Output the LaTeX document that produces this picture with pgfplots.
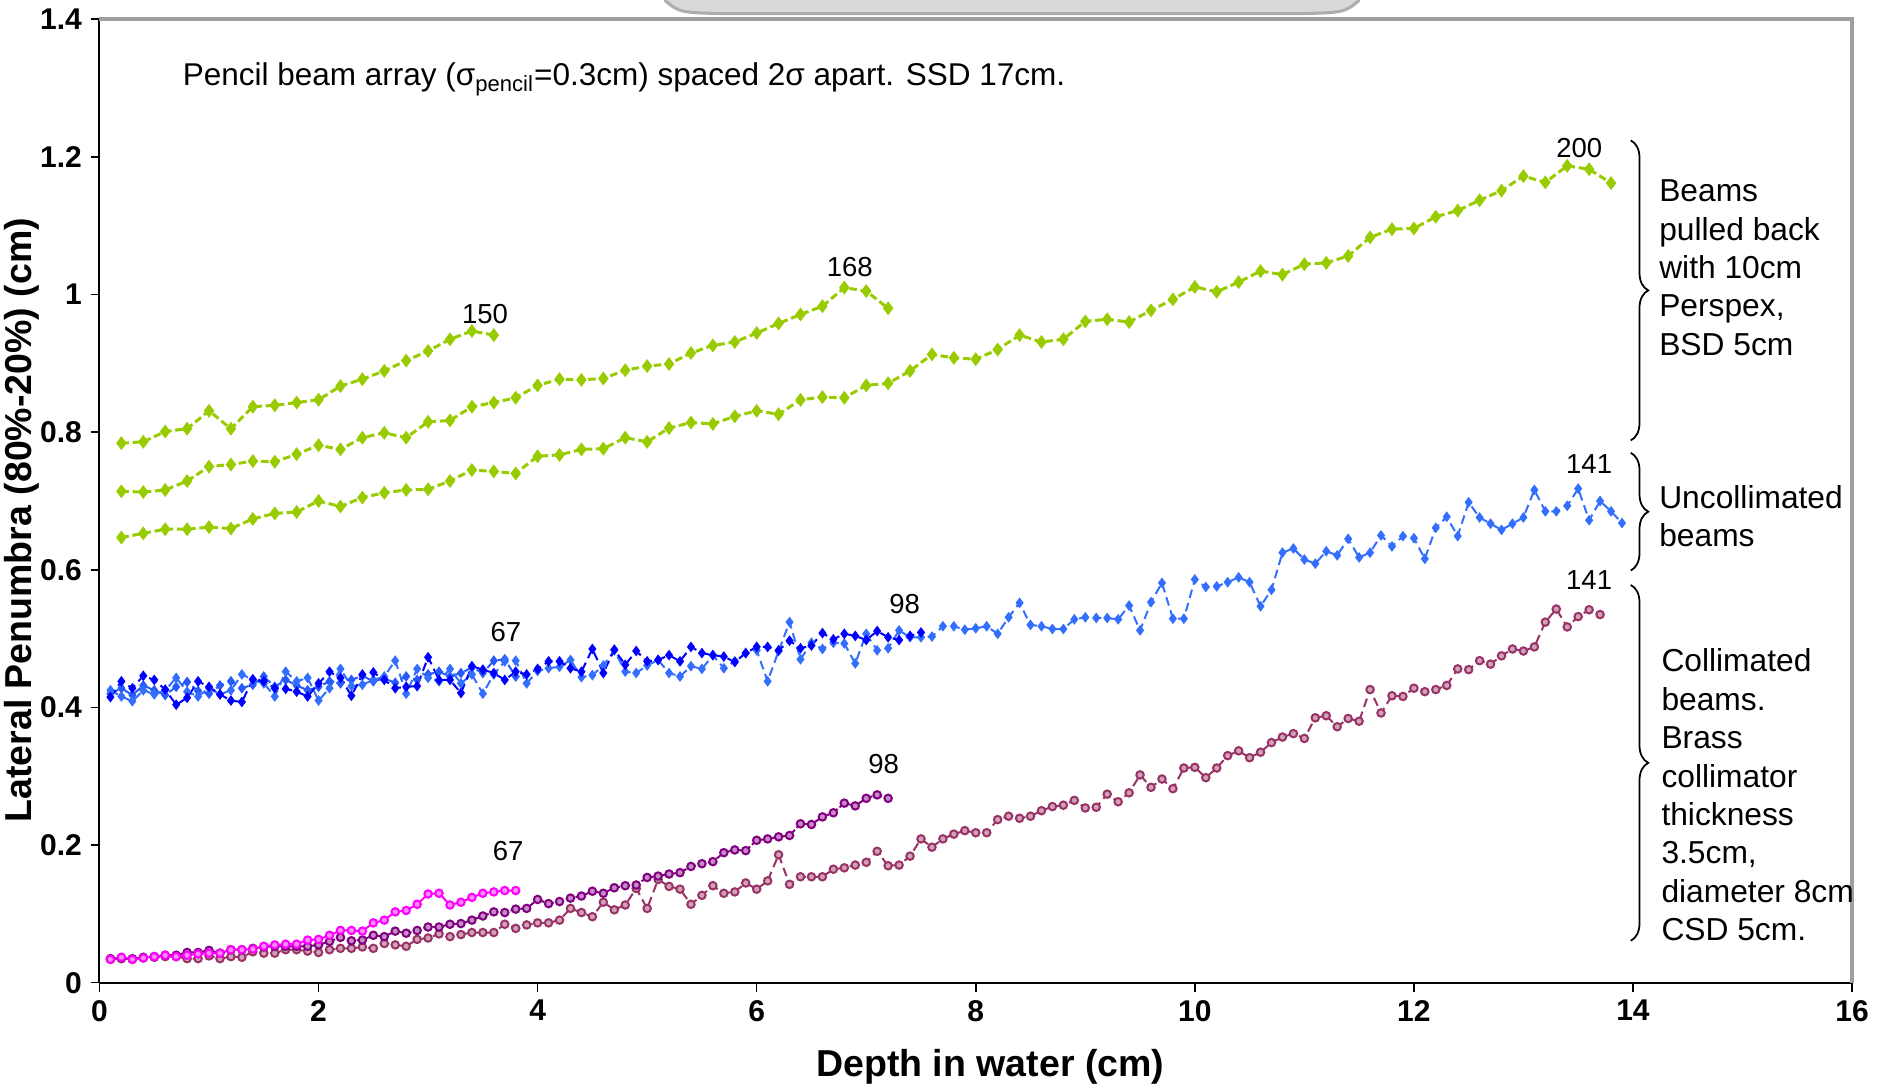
\documentclass[border=0pt]{standalone}
\usepackage{pgfplots}
\pgfplotsset{compat=1.18}
\usepackage{fontspec}
\setmainfont{Liberation Sans}
\usetikzlibrary{decorations.pathreplacing}
\definecolor{cgreen}{RGB}{153,204,0}
\definecolor{cdblue}{RGB}{0,0,255}
\definecolor{clblue}{RGB}{51,110,255}
\definecolor{cmblue}{RGB}{40,90,250}
\definecolor{cmagenta}{RGB}{255,0,255}
\definecolor{cpurple}{RGB}{128,0,128}
\definecolor{cmaroon}{RGB}{153,51,102}
\begin{document}
\begin{tikzpicture}
\begin{axis}[
 at={(0,0)}, anchor=south west,
 width=701pt, height=385.4pt, scale only axis,
 xmin=0, xmax=16, ymin=0, ymax=1.4,
 axis x line*=bottom, axis y line*=left,
 axis line style={black, line width=0.8pt},
 xtick={0,2,...,16}, ytick={0,0.2,0.4,0.6,0.8,1,1.2,1.4},
 tick align=outside, major tick length=3.5pt,
 tick style={black, line width=0.6pt},
 ticklabel style={font=\fontsize{12}{12}\selectfont\bfseries},
 /pgf/number format/assume math mode=true,
 yticklabel style={/pgf/number format/fixed},
 clip=false,
 greenst/.style={cgreen, line width=1.2pt, dash pattern=on 3pt off 1.5pt, mark=diamond*, mark size=1.8pt, mark options={solid, fill=cgreen}},
 bluest/.style={#1, line width=0.8pt, dash pattern=on 3.5pt off 2pt, mark=diamond*, mark size=1.5pt, mark options={solid, fill=#1}},
 circst/.style={#1, line width=0.8pt, mark=*, mark size=1.5pt, mark options={solid, fill=#1!45!white}},
]
% plot-area border (grey, top and right)
\draw[gray!75, line width=1.4pt] (rel axis cs:0,1) -- (rel axis cs:1,1) -- (rel axis cs:1,0);

% ---------------- Beams pulled back (green) ----------------
\addplot[greenst] coordinates {(0.2,0.784)(0.4,0.786)(0.6,0.801)(0.8,0.805)(1.0,0.831)(1.2,0.805)(1.4,0.837)(1.6,0.839)(1.8,0.843)(2.0,0.847)(2.2,0.867)(2.4,0.877)(2.6,0.889)(2.8,0.904)(3.0,0.918)(3.2,0.935)(3.4,0.947)(3.6,0.941)};
\addplot[greenst] coordinates {(0.2,0.714)(0.4,0.713)(0.6,0.716)(0.8,0.729)(1.0,0.750)(1.2,0.753)(1.4,0.758)(1.6,0.757)(1.8,0.768)(2.0,0.781)(2.2,0.775)(2.4,0.792)(2.6,0.799)(2.8,0.792)(3.0,0.815)(3.2,0.817)(3.4,0.837)(3.6,0.843)(3.8,0.850)(4.0,0.868)(4.2,0.877)(4.4,0.876)(4.6,0.878)(4.8,0.890)(5.0,0.896)(5.2,0.899)(5.4,0.915)(5.6,0.926)(5.8,0.931)(6.0,0.944)(6.2,0.958)(6.4,0.971)(6.6,0.983)(6.8,1.010)(7.0,1.005)(7.2,0.980)};
\addplot[greenst] coordinates {(0.2,0.647)(0.4,0.653)(0.6,0.659)(0.8,0.659)(1.0,0.662)(1.2,0.660)(1.4,0.674)(1.6,0.682)(1.8,0.684)(2.0,0.700)(2.2,0.692)(2.4,0.705)(2.6,0.712)(2.8,0.716)(3.0,0.717)(3.2,0.729)(3.4,0.745)(3.6,0.743)(3.8,0.740)(4.0,0.765)(4.2,0.767)(4.4,0.775)(4.6,0.776)(4.8,0.792)(5.0,0.786)(5.2,0.806)(5.4,0.814)(5.6,0.812)(5.8,0.823)(6.0,0.831)(6.2,0.826)(6.4,0.847)(6.6,0.851)(6.8,0.850)(7.0,0.868)(7.2,0.871)(7.4,0.889)(7.6,0.913)(7.8,0.908)(8.0,0.906)(8.2,0.920)(8.4,0.941)(8.6,0.931)(8.8,0.935)(9.0,0.961)(9.2,0.964)(9.4,0.960)(9.6,0.977)(9.8,0.993)(10.0,1.011)(10.2,1.004)(10.4,1.018)(10.6,1.034)(10.8,1.029)(11.0,1.044)(11.2,1.046)(11.4,1.056)(11.6,1.083)(11.8,1.095)(12.0,1.096)(12.2,1.113)(12.4,1.122)(12.6,1.137)(12.8,1.151)(13.0,1.172)(13.2,1.163)(13.4,1.187)(13.6,1.182)(13.8,1.162)};

% ---------------- Uncollimated (blue) ----------------
\addplot[bluest=cmblue] coordinates {(0.1,0.420)(0.2,0.428)(0.3,0.418)(0.4,0.432)(0.5,0.425)(0.6,0.418)(0.7,0.430)(0.8,0.437)(0.9,0.424)(1.0,0.420)(1.1,0.432)(1.2,0.438)(1.3,0.428)(1.4,0.433)(1.5,0.445)(1.6,0.430)(1.7,0.440)(1.8,0.432)(1.9,0.425)(2.0,0.430)(2.1,0.438)(2.2,0.435)(2.3,0.440)(2.4,0.446)(2.5,0.438)(2.6,0.442)(2.7,0.436)(2.8,0.445)(2.9,0.440)(3.0,0.448)(3.1,0.452)(3.2,0.445)(3.3,0.450)(3.4,0.458)(3.5,0.450)(3.6,0.468)(3.7,0.470)(3.8,0.445)};
\addplot[bluest=clblue] coordinates {(0.1,0.425)(0.2,0.416)(0.3,0.409)(0.4,0.425)(0.5,0.419)(0.6,0.425)(0.7,0.443)(0.8,0.423)(0.9,0.416)(1.0,0.428)(1.1,0.419)(1.2,0.425)(1.3,0.448)(1.4,0.440)(1.5,0.435)(1.6,0.416)(1.7,0.452)(1.8,0.438)(1.9,0.443)(2.0,0.410)(2.1,0.428)(2.2,0.456)(2.3,0.431)(2.4,0.433)(2.5,0.440)(2.6,0.445)(2.7,0.468)(2.8,0.420)(2.9,0.456)(3.0,0.443)(3.1,0.438)(3.2,0.456)(3.3,0.435)(3.4,0.448)(3.5,0.420)(3.6,0.448)(3.7,0.467)(3.8,0.468)(3.9,0.435)(4.0,0.453)(4.1,0.457)(4.2,0.459)(4.3,0.469)(4.4,0.444)(4.5,0.447)(4.6,0.461)(4.7,0.483)(4.8,0.452)(4.9,0.450)(5.0,0.461)(5.1,0.469)(5.2,0.450)(5.3,0.445)(5.4,0.460)(5.5,0.456)(5.6,0.476)(5.7,0.457)(5.8,0.467)(5.9,0.479)(6.0,0.483)(6.1,0.438)(6.2,0.482)(6.3,0.524)(6.4,0.470)(6.5,0.494)(6.6,0.485)(6.7,0.494)(6.8,0.493)(6.9,0.464)(7.0,0.507)(7.1,0.483)(7.2,0.486)(7.3,0.512)(7.4,0.502)(7.5,0.502)(7.6,0.503)(7.7,0.518)(7.8,0.518)(7.9,0.513)(8.0,0.515)(8.1,0.518)(8.2,0.507)(8.3,0.531)(8.4,0.552)(8.5,0.520)(8.6,0.518)(8.7,0.514)(8.8,0.514)(8.9,0.528)(9.0,0.531)(9.1,0.530)(9.2,0.530)(9.3,0.528)(9.4,0.548)(9.5,0.512)(9.6,0.553)(9.7,0.581)(9.8,0.529)(9.9,0.529)(10.0,0.586)(10.1,0.575)(10.2,0.576)(10.3,0.582)(10.4,0.589)(10.5,0.582)(10.6,0.547)(10.7,0.571)(10.8,0.625)(10.9,0.631)(11.0,0.615)(11.1,0.609)(11.2,0.627)(11.3,0.621)(11.4,0.645)(11.5,0.618)(11.6,0.625)(11.7,0.650)(11.8,0.634)(11.9,0.649)(12.0,0.646)(12.1,0.616)(12.2,0.661)(12.3,0.677)(12.4,0.649)(12.5,0.698)(12.6,0.676)(12.7,0.667)(12.8,0.658)(12.9,0.667)(13.0,0.676)(13.1,0.716)(13.2,0.685)(13.3,0.685)(13.4,0.693)(13.5,0.718)(13.6,0.672)(13.7,0.700)(13.8,0.685)(13.9,0.668)};
\addplot[bluest=cdblue] coordinates {(0.1,0.415)(0.2,0.438)(0.3,0.428)(0.4,0.446)(0.5,0.440)(0.6,0.426)(0.7,0.404)(0.8,0.414)(0.9,0.438)(1.0,0.430)(1.1,0.419)(1.2,0.410)(1.3,0.408)(1.4,0.441)(1.5,0.438)(1.6,0.428)(1.7,0.427)(1.8,0.423)(1.9,0.416)(2.0,0.435)(2.1,0.452)(2.2,0.443)(2.3,0.417)(2.4,0.448)(2.5,0.451)(2.6,0.440)(2.7,0.428)(2.8,0.430)(2.9,0.431)(3.0,0.473)(3.1,0.440)(3.2,0.440)(3.3,0.421)(3.4,0.460)(3.5,0.455)(3.6,0.450)(3.7,0.440)(3.8,0.452)(3.9,0.448)(4.0,0.456)(4.1,0.467)(4.2,0.467)(4.3,0.457)(4.4,0.452)(4.5,0.485)(4.6,0.450)(4.7,0.484)(4.8,0.462)(4.9,0.482)(5.0,0.467)(5.1,0.469)(5.2,0.476)(5.3,0.467)(5.4,0.488)(5.5,0.479)(5.6,0.476)(5.7,0.474)(5.8,0.466)(5.9,0.479)(6.0,0.488)(6.1,0.488)(6.2,0.483)(6.3,0.497)(6.4,0.486)(6.5,0.490)(6.6,0.508)(6.7,0.499)(6.8,0.507)(6.9,0.504)(7.0,0.498)(7.1,0.511)(7.2,0.502)(7.3,0.498)(7.4,0.504)(7.5,0.509)};

% ---------------- Collimated (magenta / purple / maroon) ----------------
\addplot[circst=cmaroon, dash pattern=on 3.5pt off 2pt] coordinates {(0.1,0.034)(0.2,0.035)(0.3,0.034)(0.4,0.036)(0.5,0.037)(0.6,0.038)(0.7,0.038)(0.8,0.035)(0.9,0.035)(1.0,0.039)(1.1,0.035)(1.2,0.038)(1.3,0.037)(1.4,0.045)(1.5,0.043)(1.6,0.043)(1.7,0.048)(1.8,0.048)(1.9,0.046)(2.0,0.044)(2.1,0.048)(2.2,0.050)(2.3,0.050)(2.4,0.052)(2.5,0.050)(2.6,0.057)(2.7,0.055)(2.8,0.053)(2.9,0.063)(3.0,0.065)(3.1,0.071)(3.2,0.067)(3.3,0.070)(3.4,0.073)(3.5,0.073)(3.6,0.073)(3.7,0.085)(3.8,0.079)(3.9,0.084)(4.0,0.087)(4.1,0.087)(4.2,0.091)(4.3,0.108)(4.4,0.102)(4.5,0.096)(4.6,0.117)(4.7,0.106)(4.8,0.113)(4.9,0.137)(5.0,0.108)(5.1,0.150)(5.2,0.140)(5.3,0.136)(5.4,0.114)(5.5,0.127)(5.6,0.141)(5.7,0.130)(5.8,0.132)(5.9,0.145)(6.0,0.136)(6.1,0.148)(6.2,0.186)(6.3,0.143)(6.4,0.154)(6.5,0.154)(6.6,0.154)(6.7,0.165)(6.8,0.167)(6.9,0.171)(7.0,0.175)(7.1,0.191)(7.2,0.170)(7.3,0.171)(7.4,0.184)(7.5,0.209)(7.6,0.197)(7.7,0.209)(7.8,0.216)(7.9,0.221)(8.0,0.218)(8.1,0.218)(8.2,0.237)(8.3,0.242)(8.4,0.239)(8.5,0.242)(8.6,0.250)(8.7,0.256)(8.8,0.258)(8.9,0.265)(9.0,0.254)(9.1,0.255)(9.2,0.274)(9.3,0.263)(9.4,0.276)(9.5,0.302)(9.6,0.284)(9.7,0.296)(9.8,0.282)(9.9,0.312)(10.0,0.313)(10.1,0.298)(10.2,0.312)(10.3,0.330)(10.4,0.337)(10.5,0.327)(10.6,0.335)(10.7,0.349)(10.8,0.357)(10.9,0.362)(11.0,0.355)(11.1,0.385)(11.2,0.388)(11.3,0.372)(11.4,0.384)(11.5,0.380)(11.6,0.426)(11.7,0.392)(11.8,0.417)(11.9,0.416)(12.0,0.428)(12.1,0.423)(12.2,0.426)(12.3,0.432)(12.4,0.456)(12.5,0.455)(12.6,0.468)(12.7,0.463)(12.8,0.475)(12.9,0.485)(13.0,0.482)(13.1,0.488)(13.2,0.524)(13.3,0.543)(13.4,0.517)(13.5,0.532)(13.6,0.542)(13.7,0.535)};
\addplot[circst=cpurple, dash pattern=on 3pt off 1pt] coordinates {(0.1,0.035)(0.2,0.036)(0.3,0.035)(0.4,0.037)(0.5,0.038)(0.6,0.040)(0.7,0.040)(0.8,0.044)(0.9,0.044)(1.0,0.047)(1.1,0.043)(1.2,0.048)(1.3,0.048)(1.4,0.050)(1.5,0.052)(1.6,0.053)(1.7,0.053)(1.8,0.053)(1.9,0.053)(2.0,0.055)(2.1,0.060)(2.2,0.066)(2.3,0.061)(2.4,0.062)(2.5,0.069)(2.6,0.067)(2.7,0.075)(2.8,0.072)(2.9,0.076)(3.0,0.081)(3.1,0.081)(3.2,0.085)(3.3,0.086)(3.4,0.091)(3.5,0.097)(3.6,0.103)(3.7,0.102)(3.8,0.107)(3.9,0.108)(4.0,0.121)(4.1,0.115)(4.2,0.118)(4.3,0.123)(4.4,0.126)(4.5,0.133)(4.6,0.130)(4.7,0.138)(4.8,0.141)(4.9,0.142)(5.0,0.153)(5.1,0.155)(5.2,0.158)(5.3,0.160)(5.4,0.169)(5.5,0.173)(5.6,0.176)(5.7,0.189)(5.8,0.193)(5.9,0.192)(6.0,0.207)(6.1,0.209)(6.2,0.212)(6.3,0.214)(6.4,0.231)(6.5,0.230)(6.6,0.241)(6.7,0.247)(6.8,0.261)(6.9,0.257)(7.0,0.268)(7.1,0.273)(7.2,0.268)};
\addplot[circst=cmagenta] coordinates {(0.1,0.034)(0.2,0.037)(0.3,0.034)(0.4,0.036)(0.5,0.038)(0.6,0.040)(0.7,0.038)(0.8,0.040)(0.9,0.042)(1.0,0.043)(1.1,0.043)(1.2,0.048)(1.3,0.048)(1.4,0.049)(1.5,0.053)(1.6,0.055)(1.7,0.056)(1.8,0.056)(1.9,0.062)(2.0,0.063)(2.1,0.069)(2.2,0.076)(2.3,0.076)(2.4,0.075)(2.5,0.087)(2.6,0.091)(2.7,0.103)(2.8,0.105)(2.9,0.114)(3.0,0.129)(3.1,0.130)(3.2,0.113)(3.3,0.117)(3.4,0.124)(3.5,0.130)(3.6,0.132)(3.7,0.134)(3.8,0.134)};

% ---------------- annotations ----------------
\node[anchor=west, font=\fontsize{12.6}{14}\selectfont] at (axis cs:0.68,1.313) {Pencil beam array (σ\textsubscript{pencil}=0.3cm) spaced 2σ apart. SSD 17cm.};
\begin{scope}[every node/.style={font=\fontsize{11}{12}\selectfont}]
\node at (axis cs:3.52,0.972) {150};
\node at (axis cs:6.85,1.040) {168};
\node at (axis cs:13.51,1.213) {200};
\node at (axis cs:13.6,0.754) {141};
\node at (axis cs:7.35,0.550) {98};
\node at (axis cs:3.71,0.510) {67};
\node at (axis cs:13.6,0.585) {141};
\node at (axis cs:7.16,0.318) {98};
\node at (axis cs:3.73,0.191) {67};
\end{scope}
\draw[line width=0.7pt, decorate, decoration={brace, amplitude=7pt}] (axis cs:13.98,1.224) -- (axis cs:13.98,0.788);
\draw[line width=0.7pt, decorate, decoration={brace, amplitude=7pt}] (axis cs:13.98,0.770) -- (axis cs:13.98,0.599);
\draw[line width=0.7pt, decorate, decoration={brace, amplitude=7pt}] (axis cs:13.98,0.578) -- (axis cs:13.98,0.061);
\begin{scope}[every node/.style={anchor=west, align=left, font=\fontsize{12.7}{15.35}\selectfont}]
\node at (axis cs:14.16,1.039) {Beams\\pulled back\\with 10cm\\Perspex,\\BSD 5cm};
\node at (axis cs:14.16,0.678) {Uncollimated\\beams};
\node at (axis cs:14.18,0.273) {Collimated\\beams.\\Brass\\collimator\\thickness\\3.5cm,\\diameter 8cm\\CSD 5cm.};
\end{scope}
\end{axis}
% grey shadow of an overlapping shape at the top
\fill[gray!30] (226pt,393.1pt) .. controls (232pt,388pt) .. (252pt,387.6pt) -- (478pt,387.6pt) .. controls (498pt,388pt) .. (504pt,393.1pt) -- cycle;
\draw[gray!65, line width=1.2pt] (226pt,393.1pt) .. controls (232pt,388pt) .. (252pt,387.6pt) -- (478pt,387.6pt) .. controls (498pt,388pt) .. (504pt,393.1pt);
% axis titles
\node[rotate=90, font=\fontsize{15}{15}\selectfont\bfseries] at (-31.2pt,185pt) {Lateral Penumbra (80\%-20\%) (cm)};
\node[font=\fontsize{15}{15}\selectfont\bfseries] at (356.3pt,-33.8pt) {Depth in water (cm)};
\pgfresetboundingbox
\useasboundingbox (-39.8pt,-42.8pt) rectangle (712.2pt,393.1pt);
\end{tikzpicture}
\end{document}
